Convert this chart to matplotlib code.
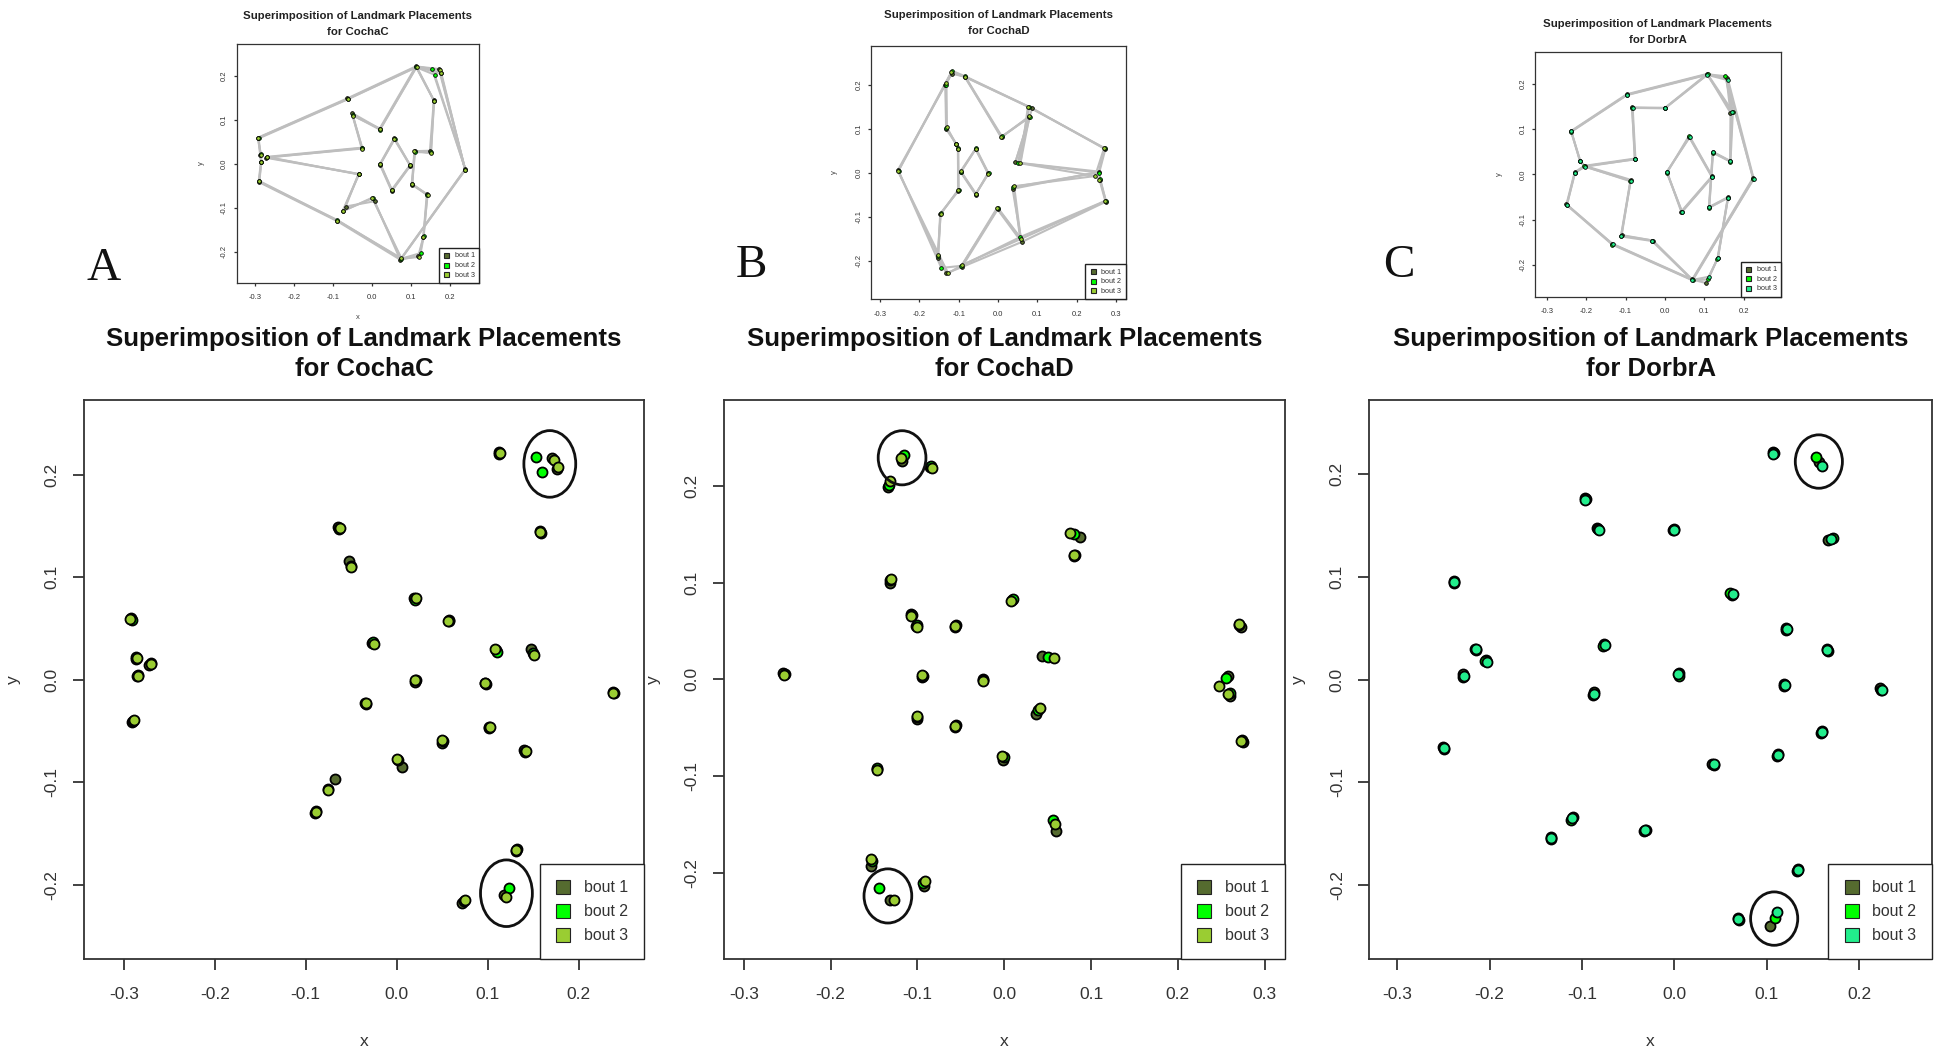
import matplotlib
matplotlib.use('Agg')
import matplotlib.pyplot as plt
from matplotlib.patches import Ellipse
from matplotlib.lines import Line2D
from matplotlib.collections import LineCollection
import numpy as np

plt.rcParams['font.family'] = ['Liberation Sans', 'DejaVu Sans']

bout_names = ['bout 1', 'bout 2', 'bout 3']
colors_ab = ['#556B2F', '#00FF00', '#9ACD32']
colors_c = ['#556B2F', '#00FF00', '#22EE8C']

# CochaC landmarks, one value per landmark and bout
cochac_x1 = [-0.292, -0.064, 0.112, 0.171, 0.176, 0.238, 0.072, 0.118, 0.131, 0.140, 0.101, 0.109, 0.148, 0.158, 0.019,
             -0.052, -0.027, -0.272, -0.287, -0.285, -0.291, -0.090, -0.068, -0.035, 0.006, 0.057, 0.098, 0.050, 0.020]
cochac_y1 = [0.060, 0.149, 0.222, 0.216, 0.206, -0.012, -0.218, -0.210, -0.167, -0.069, -0.047, 0.029, 0.030, 0.145, 0.080,
             0.116, 0.036, 0.014, 0.020, 0.004, -0.041, -0.130, -0.097, -0.023, -0.085, 0.058, -0.004, -0.062, -0.002]
cochac_x2 = [-0.291, -0.063, 0.113, 0.153, 0.160, 0.239, 0.074, 0.124, 0.132, 0.141, 0.102, 0.110, 0.150, 0.159, 0.020,
             -0.050, -0.026, -0.270, -0.286, -0.284, -0.290, -0.089, -0.075, -0.034, 0.001, 0.058, 0.097, 0.051, 0.021]
cochac_y2 = [0.058, 0.147, 0.220, 0.217, 0.203, -0.013, -0.216, -0.203, -0.165, -0.071, -0.046, 0.027, 0.026, 0.143, 0.078,
             0.111, 0.037, 0.016, 0.022, 0.005, -0.040, -0.128, -0.107, -0.024, -0.078, 0.057, -0.003, -0.060, 0.000]
cochac_x3 = [-0.293, -0.062, 0.114, 0.173, 0.177, 0.238, 0.075, 0.120, 0.131, 0.142, 0.103, 0.108, 0.151, 0.158, 0.021,
             -0.050, -0.025, -0.270, -0.285, -0.284, -0.289, -0.089, -0.076, -0.034, 0.000, 0.056, 0.097, 0.050, 0.020]
cochac_y3 = [0.059, 0.148, 0.221, 0.214, 0.207, -0.013, -0.215, -0.212, -0.166, -0.070, -0.046, 0.030, 0.024, 0.144, 0.080,
             0.110, 0.035, 0.015, 0.021, 0.004, -0.039, -0.129, -0.108, -0.023, -0.077, 0.057, -0.003, -0.059, 0.000]
cochac_edges = [(0, 1), (1, 2), (2, 3), (2, 4), (3, 5), (4, 5), (5, 6), (6, 21), (21, 20), (20, 19), (19, 18), (18, 0),
                (2, 14), (14, 15), (15, 16), (16, 17), (17, 23), (23, 22), (22, 24), (24, 6), (6, 7), (7, 8), (8, 9),
                (9, 10), (10, 11), (11, 12), (12, 13), (13, 2), (25, 26), (26, 27), (27, 28), (28, 25)]
cochac_circled = [[3, 4], [7]]

# CochaD landmarks
cochad_x1 = [-0.118, -0.085, -0.134, 0.087, 0.080, -0.132, 0.009, -0.107, -0.102, -0.057, 0.273, 0.044, -0.255, -0.095,
             -0.025, 0.258, 0.260, -0.101, -0.057, 0.037, 0.275, -0.001, -0.147, 0.060, -0.153, -0.092, -0.131]
cochad_y1 = [0.226, 0.219, 0.199, 0.147, 0.127, 0.100, 0.082, 0.067, 0.055, 0.054, 0.054, 0.024, 0.006, 0.002,
             0.000, 0.003, -0.017, -0.041, -0.049, -0.036, -0.065, -0.083, -0.093, -0.157, -0.193, -0.214, -0.228]
cochad_x2 = [-0.116, -0.084, -0.133, 0.080, 0.081, -0.131, 0.010, -0.106, -0.101, -0.056, 0.271, 0.051, -0.253, -0.094,
             -0.024, 0.256, 0.260, -0.100, -0.056, 0.039, 0.274, 0.000, -0.146, 0.056, -0.152, -0.093, -0.144]
cochad_y2 = [0.232, 0.220, 0.201, 0.150, 0.128, 0.103, 0.083, 0.066, 0.056, 0.056, 0.056, 0.023, 0.005, 0.003,
             -0.001, 0.001, -0.014, -0.039, -0.047, -0.032, -0.063, -0.080, -0.092, -0.146, -0.188, -0.211, -0.216]
cochad_x3 = [-0.119, -0.083, -0.131, 0.076, 0.080, -0.130, 0.008, -0.107, -0.101, -0.057, 0.270, 0.057, -0.254, -0.095,
             -0.025, 0.247, 0.258, -0.101, -0.057, 0.041, 0.273, -0.002, -0.146, 0.058, -0.153, -0.091, -0.127]
cochad_y3 = [0.229, 0.218, 0.205, 0.151, 0.129, 0.104, 0.081, 0.065, 0.054, 0.055, 0.057, 0.022, 0.004, 0.004,
             -0.002, -0.007, -0.015, -0.038, -0.048, -0.030, -0.064, -0.079, -0.094, -0.150, -0.186, -0.209, -0.228]
cochad_edges = [(0, 1), (1, 3), (3, 10), (10, 15), (15, 16), (16, 20), (20, 23), (23, 25), (25, 26), (26, 12), (12, 0),
                (0, 2), (2, 5), (5, 7), (7, 8), (8, 17), (17, 22), (22, 24), (24, 26), (25, 21), (21, 23), (23, 19),
                (19, 15), (15, 11), (11, 3), (11, 4), (4, 6), (6, 1), (9, 14), (14, 18), (18, 13), (13, 9)]
cochad_circled = [[0], [26]]

# DorbrA landmarks
dorbra_x1 = [0.107, 0.156, -0.097, -0.084, 0.000, 0.166, -0.238, 0.062, 0.121, -0.076, 0.165, -0.216, -0.204, -0.229,
             0.005, 0.119, 0.223, -0.087, 0.160, -0.250, 0.112, 0.041, -0.110, -0.134, -0.031, 0.134, 0.069, 0.104]
dorbra_y1 = [0.222, 0.212, 0.177, 0.148, 0.147, 0.136, 0.096, 0.082, 0.050, 0.035, 0.030, 0.030, 0.019, 0.005,
             0.006, -0.004, -0.008, -0.012, -0.050, -0.066, -0.072, -0.082, -0.134, -0.153, -0.146, -0.184, -0.232, -0.240]
dorbra_x2 = [0.108, 0.153, -0.096, -0.083, -0.001, 0.172, -0.238, 0.060, 0.121, -0.077, 0.166, -0.215, -0.205, -0.229,
             0.005, 0.119, 0.224, -0.088, 0.159, -0.249, 0.111, 0.043, -0.112, -0.134, -0.033, 0.133, 0.070, 0.109]
dorbra_y2 = [0.221, 0.217, 0.176, 0.147, 0.146, 0.138, 0.094, 0.084, 0.048, 0.033, 0.028, 0.029, 0.018, 0.003,
             0.004, -0.006, -0.010, -0.015, -0.052, -0.068, -0.074, -0.083, -0.137, -0.155, -0.147, -0.186, -0.234, -0.232]
dorbra_x3 = [0.107, 0.160, -0.097, -0.082, 0.000, 0.170, -0.238, 0.063, 0.122, -0.075, 0.165, -0.215, -0.203, -0.228,
             0.004, 0.120, 0.225, -0.087, 0.160, -0.249, 0.112, 0.043, -0.111, -0.133, -0.032, 0.134, 0.069, 0.111]
dorbra_y3 = [0.220, 0.208, 0.175, 0.146, 0.146, 0.137, 0.095, 0.083, 0.049, 0.034, 0.029, 0.030, 0.017, 0.004,
             0.005, -0.005, -0.010, -0.014, -0.051, -0.067, -0.073, -0.082, -0.135, -0.154, -0.146, -0.185, -0.233, -0.226]
dorbra_edges = [(6, 2), (2, 0), (0, 1), (1, 16), (16, 26), (26, 23), (23, 19), (19, 13), (13, 12), (12, 11), (11, 6),
                (3, 4), (4, 0), (3, 9), (9, 12), (12, 17), (17, 22), (22, 24), (24, 26), (26, 27), (27, 25), (25, 18),
                (18, 20), (20, 8), (8, 10), (10, 5), (5, 1), (0, 5), (7, 15), (15, 21), (21, 14), (14, 7)]
dorbra_circled = [[1], [27]]

panels = [
    dict(name='CochaC', letter='A',
         bouts=[(cochac_x1, cochac_y1), (cochac_x2, cochac_y2), (cochac_x3, cochac_y3)],
         edges=cochac_edges, circled=cochac_circled, colors=colors_ab,
         xlim=(-0.3437, 0.2718), ylim=(-0.2725, 0.2729), xticks=[-0.3, -0.2, -0.1, 0.0, 0.1, 0.2],
         sxlim=(-0.347, 0.274), sylim=(-0.271, 0.273), ell=(0.057, 0.065),
         big=[0.0433, 0.0910, 0.2888, 0.5299], small=[0.1221, 0.7318, 0.1250, 0.2265],
         letter_xy=(104, 269), stitle_pad=6.2, sxlabel=True),
    dict(name='CochaD', letter='B',
         bouts=[(cochad_x1, cochad_y1), (cochad_x2, cochad_y2), (cochad_x3, cochad_y3)],
         edges=cochad_edges, circled=cochad_circled, colors=colors_ab,
         xlim=(-0.3232, 0.3234), ylim=(-0.2892, 0.2888), xticks=[-0.3, -0.2, -0.1, 0.0, 0.1, 0.2, 0.3],
         sxlim=(-0.323, 0.325), sylim=(-0.287, 0.289), ell=(0.055, 0.056),
         big=[0.3732, 0.0910, 0.2895, 0.5299], small=[0.4492, 0.7164, 0.1314, 0.2401],
         letter_xy=(751, 266), stitle_pad=8.4, sxlabel=False),
    dict(name='DorbrA', letter='C',
         bouts=[(dorbra_x1, dorbra_y1), (dorbra_x2, dorbra_y2), (dorbra_x3, dorbra_y3)],
         edges=dorbra_edges, circled=dorbra_circled, colors=colors_c,
         xlim=(-0.3303, 0.2790), ylim=(-0.2720, 0.2723), xticks=[-0.3, -0.2, -0.1, 0.0, 0.1, 0.2],
         sxlim=(-0.330, 0.294), sylim=(-0.270, 0.271), ell=(0.051, 0.052),
         big=[0.7061, 0.0910, 0.2904, 0.5299], small=[0.7916, 0.7188, 0.1269, 0.2322],
         letter_xy=(1399, 266), stitle_pad=6.3, sxlabel=False),
]
yticks = [-0.2, -0.1, 0.0, 0.1, 0.2]

W, H = 1939, 1055
fig = plt.figure(figsize=(W / 100, H / 100), dpi=100)


def frame(ax, xlim, ylim, xt, fs, ticklen, xpad, ypad, lw):
    ax.set_xlim(*xlim)
    ax.set_ylim(*ylim)
    ax.set_xticks(xt)
    ax.set_xticklabels([f'{t:.1f}' for t in xt])
    ax.set_yticks(yticks)
    ax.set_yticklabels([f'{t:.1f}' for t in yticks], rotation=90, va='center')
    ax.tick_params(axis='both', length=ticklen, width=lw, labelsize=fs, color='#333333', labelcolor='#333333')
    ax.tick_params(axis='x', pad=xpad)
    ax.tick_params(axis='y', pad=ypad)
    for sp in ax.spines.values():
        sp.set_linewidth(lw)
        sp.set_color('#333333')


def add_legend(ax, colors, fs, msize, **kw):
    handles = [Line2D([], [], ls='', marker='s', markersize=msize, markerfacecolor=c,
                      markeredgecolor='#222222', markeredgewidth=0.8) for c in colors]
    leg = ax.legend(handles, bout_names, loc='lower right', bbox_to_anchor=(1, 0), borderaxespad=0,
                    fontsize=fs, fancybox=False, framealpha=1, edgecolor='#222222', **kw)
    leg.get_frame().set_linewidth(1.0)
    for t in leg.get_texts():
        t.set_color('#333333')


for p in panels:
    title = f'Superimposition of Landmark Placements\nfor {p["name"]}'

    # small wireframe plot
    axs = fig.add_axes(p['small'])
    for k, (bx, by) in enumerate(p['bouts']):
        segs = [[(bx[i], by[i]), (bx[j], by[j])] for i, j in p['edges']]
        axs.add_collection(LineCollection(segs, colors='#BEBEBE', linewidths=1.5, zorder=2))
    for k, (bx, by) in enumerate(p['bouts']):
        axs.scatter(bx, by, s=7, c=p['colors'][k], edgecolors='black', linewidths=0.6, zorder=3 + k)
    frame(axs, p['sxlim'], p['sylim'], p['xticks'], 5.5, 2.2, 6, 4, 0.9)
    axs.set_title(title, fontsize=8.2, fontweight='bold', pad=p['stitle_pad'], linespacing=1.8, color='#222222')
    if p['sxlabel']:
        axs.set_xlabel('x', fontsize=5.5, color='#444444')
        axs.xaxis.set_label_coords(0.5, -0.13)
    axs.set_ylabel('y', fontsize=5.5, color='#444444')
    axs.yaxis.set_label_coords(-0.13, 0.5)
    add_legend(axs, p['colors'], 5.2, 3.6, handlelength=0.8, handletextpad=0.8, labelspacing=0.35, borderpad=0.6)

    # large scatter plot
    ax = fig.add_axes(p['big'])
    for k, (bx, by) in enumerate(p['bouts']):
        ax.scatter(bx, by, s=52, c=p['colors'][k], edgecolors='black', linewidths=1.3, zorder=3 + k)
    ew, eh = p['ell']
    for group in p['circled']:
        px = [p['bouts'][k][0][i] for k in range(3) for i in group]
        py = [p['bouts'][k][1][i] for k in range(3) for i in group]
        ax.add_patch(Ellipse((np.mean(px), np.mean(py)), ew, eh, fill=False, lw=2.0, ec='#111111', zorder=8))
    frame(ax, p['xlim'], p['ylim'], p['xticks'], 12.5, 8, 12, 9.5, 1.3)
    ax.set_title(title, fontsize=18.5, fontweight='bold', pad=17, linespacing=1.35, color='#111111')
    ax.set_xlabel('x', fontsize=12.5, color='#333333')
    ax.xaxis.set_label_coords(0.5, -0.135)
    ax.set_ylabel('y', fontsize=12.5, color='#333333')
    ax.yaxis.set_label_coords(-0.112, 0.5)
    add_legend(ax, p['colors'], 11.4, 9.5, handlelength=1.0, handletextpad=0.8, labelspacing=0.57, borderpad=1.0)

    lx, ly = p['letter_xy']
    fig.text(lx / W, 1 - ly / H, p['letter'], fontsize=34, ha='center', va='center',
             family=['Liberation Serif', 'DejaVu Serif'], color='#111111')

fig.savefig('out.png', dpi=100, facecolor='white')
